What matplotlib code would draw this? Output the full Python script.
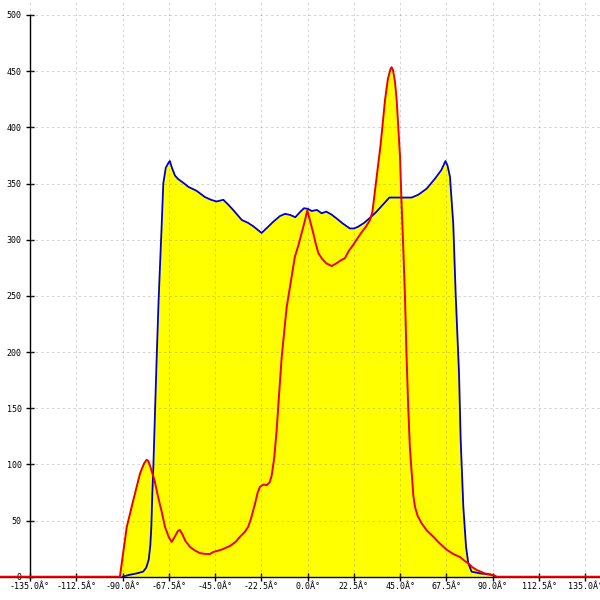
import matplotlib
matplotlib.use('Agg')
import matplotlib.pyplot as plt

# blue curve (angle in degrees, value)
blue_deg = [-90, -87, -83, -80, -78.5, -77.3, -76.5, -76, -75.6, -75, -74.5, -73.5,
            -72.5, -71.5, -71, -70.2, -69, -67.5, -67, -66, -64.5, -63, -60, -58,
            -54, -50, -47, -44.3, -41, -38.5, -36, -32, -29, -26.5, -22.4, -19.5,
            -16.7, -13.5, -11, -8.5, -6, -3.5, -1.8, 0, 2, 4.5, 6.8, 9, 11.5, 14,
            17, 20.5, 22.5, 24.5, 27.5, 30, 33, 35, 38, 39.7, 50.5, 53.8, 57.9, 62,
            65, 67, 68, 69.2, 70, 70.8, 72, 73.6, 74.4, 75.7, 77, 78.1, 79.7, 83.8,
            90, 91]
blue_val = [0, 1.5, 3, 4.5, 8, 15, 28, 45, 70, 100, 130, 190,
            245, 290, 312, 350, 364, 369, 370, 364, 357, 354, 350, 347,
            343.5, 338, 335.5, 334, 335.5, 331, 326, 317.5, 315, 312, 306, 311,
            316, 321, 323, 322, 320, 325, 328, 327.5, 325.5, 326.5, 323.5, 325, 322.5, 319,
            314.5, 310, 310, 311.5, 315, 319, 324, 328, 334, 337.5, 337.5, 340, 345.5, 354.5,
            362, 370, 366, 356, 335, 314, 250, 181, 122, 62, 27, 12, 4.5, 3,
            1.5, 0]

# red curve
red_deg = [-150, -91.3, -88, -84.8, -81.5, -79.5, -78.3, -77.5, -76.7, -74.5, -72.6,
           -71, -69.4, -67.5, -66.1, -64.5, -63, -62.1, -61, -59.5, -57.2, -55, -52.4,
           -50, -47.5, -45.9, -42, -37.8, -35, -32.9, -30.5, -28.9, -27.5, -25.6, -24.3,
           -23.2, -21.5, -19.9, -18.5, -17.5, -16.3, -15.1, -13.8, -12.6, -11.2, -10.2,
           -8.6, -6.2, -4.5, -2.9, -1.2, -0.2, 1, 2.7, 4, 5.2, 7, 9, 11.7, 14, 16, 18.1,
           20, 22, 23.8, 26, 28.5, 30.3, 31.5, 32.5, 34.3, 35.5, 37.6, 39, 40.3, 40.8,
           41.5, 42.5, 43.3, 44.9, 45.7, 46.5, 47.3, 48.1, 48.9, 49.7, 50.6, 51.4, 52.2,
           53.5, 55.4, 58, 61.1, 64, 67.6, 71, 74.1, 76, 78.1, 80, 82.2, 86, 90.2, 92, 145]
red_val = [0, 0, 44, 68, 92, 101, 104, 103, 99, 86, 70,
           58, 44.5, 35, 31, 36, 41, 41.5, 38, 32, 26.5, 23.5, 21,
           20.3, 20.2, 22, 24, 27.3, 31, 35.6, 40, 44.5, 52, 65, 75,
           80, 82, 81.5, 84, 90, 105, 130, 165, 196, 222, 240,
           258, 285, 295, 306, 318, 326, 318, 306, 296, 288, 283, 279, 276.5, 279, 281.5, 283.5,
           290, 295, 300, 306, 312, 317.5, 325, 340, 367, 385, 424, 443, 452, 453.5,
           451, 440, 424, 374, 330, 292, 250, 195, 151, 115, 92, 72, 62,
           54, 47.5, 41, 35.6, 30, 24, 20, 17.5, 14.5, 12, 8.5, 6, 3, 1.5, 0, 0]

x_ticks = [-135, -112.5, -90, -67.5, -45, -22.5, 0, 22.5, 45, 67.5, 90, 112.5, 135]
x_labels = [f"{t:.1f}Â°" for t in x_ticks]
y_ticks = [0, 50, 100, 150, 200, 250, 300, 350, 400, 450, 500]

fig = plt.figure(figsize=(6, 6), dpi=100)
ax = fig.add_axes([0, 0, 1, 1])
ax.set_xlim(-149.6, 142.15)
ax.set_ylim(-20.74, 513.35)

ax.fill_between(blue_deg, 0, blue_val, color='#ffff00', lw=0, zorder=1)
ax.fill_between(red_deg, 0, red_val, color='#ffff00', lw=0, zorder=1)

# dashed grid, only inside the quadrant above 0 and right of -135
ax.vlines(x_ticks, 0, 513.35, colors='#808080', alpha=0.35, lw=0.7,
          linestyles=(0, (2.5, 3)), zorder=2)
ax.hlines(y_ticks, -135, 142.15, colors='#808080', alpha=0.35, lw=0.7,
          linestyles=(0, (2.5, 3)), zorder=2)

ax.plot(blue_deg, blue_val, color='#0000cc', lw=1.3, zorder=4)
ax.plot(red_deg, red_val, color='#ee0000', lw=1.4, zorder=5)

for s in ['top', 'right']:
    ax.spines[s].set_visible(False)
ax.spines['left'].set_position(('data', -135))
ax.spines['bottom'].set_position(('data', 0))
ax.spines['left'].set_bounds(0, 500)
ax.spines['left'].set_linewidth(1.0)
ax.spines['bottom'].set_linewidth(1.0)
ax.spines['left'].set_zorder(3)
ax.spines['bottom'].set_zorder(3)

ax.set_xticks(x_ticks)
ax.set_xticklabels(x_labels)
ax.set_yticks(y_ticks)
ax.set_yticklabels([str(v) for v in y_ticks])
ax.tick_params(direction='inout', length=6, width=1, labelsize=6,
               labelfontfamily='DejaVu Sans Mono')
ax.tick_params(axis='x', pad=1)
ax.tick_params(axis='y', pad=3)

plt.savefig('out.png', dpi=100)
